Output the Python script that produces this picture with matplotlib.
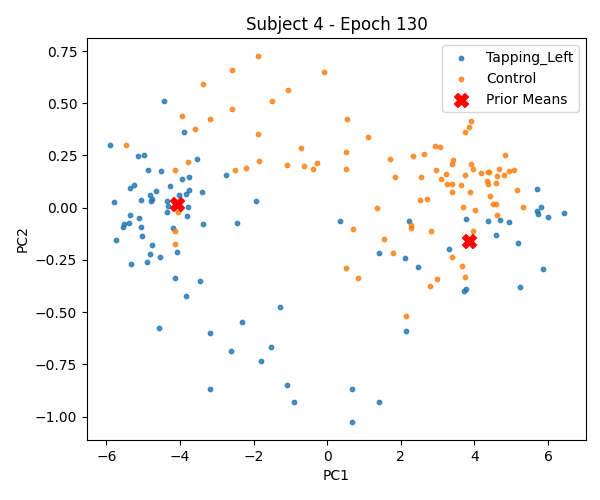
import matplotlib
matplotlib.use("Agg")
import matplotlib.pyplot as plt

tap_x = [-4.44, -3.90, -5.91, -5.15, -4.98, -3.54, -4.88, -4.52, -2.75, -3.95,
         -3.76, -5.37, -5.26, -4.28, -4.66, -3.76, -3.84, -3.41, -4.82, -4.77,
         -4.79, -5.07, -5.80, -4.36, -4.03, -4.33, -3.79, -4.36, -1.94, -5.37,
         -5.12, -3.81, -5.53, -5.39, -5.56, -5.07, -3.38, -2.45, -4.20, -5.75,
         -5.04, -4.77, -4.09, -4.82, -4.55, -5.34, -4.90, -4.14, -3.46, -3.84,
         -4.58, -2.32, -3.19, 0.35, 1.42, -1.28, -1.53, -2.62, -1.80, -3.19,
         -1.09, -0.90, 0.67, 0.67, 1.42, 2.23, 2.12, 2.47, 3.31, 5.71,
         5.82, 5.71, 5.74, 6.01, 6.42, 3.78, 4.38, 4.70, 4.95, 4.59,
         5.19, 5.87, 5.25, 3.72, 3.78, 2.14]
tap_y = [0.510, 0.362, 0.300, 0.248, 0.253, 0.234, 0.181, 0.176, 0.157, 0.138,
         0.148, 0.095, 0.110, 0.105, 0.081, 0.086, 0.067, 0.076, 0.062, 0.043,
         0.033, 0.038, 0.029, 0.033, 0.062, 0.010, 0.005, -0.019, 0.033, -0.033,
         -0.050, -0.038, -0.076, -0.072, -0.091, -0.091, -0.076, -0.072, -0.095, -0.157,
         -0.134, -0.181, -0.210, -0.224, -0.238, -0.272, -0.262, -0.339, -0.353, -0.424,
         -0.577, -0.548, -0.601, -0.062, -0.215, -0.477, -0.668, -0.687, -0.734, -0.868,
         -0.849, -0.930, -0.868, -1.025, -0.930, -0.062, -0.243, -0.286, -0.200, 0.091,
         0.005, -0.014, -0.029, -0.043, -0.024, -0.052, -0.062, -0.057, -0.067, -0.129,
         -0.167, -0.296, -0.381, -0.401, -0.391, -0.591]

ctl_x = [-3.38, -2.59, -3.95, -3.19, -3.60, -1.88, -5.47, -3.79, -1.86, -4.14,
         -2.51, -2.21, -4.06, -4.14, -4.14, -1.88, -2.59, -0.09, -1.07, -1.50,
         0.54, -0.71, 0.51, -1.09, -0.63, -0.28, -0.39, 0.51, 1.36, 0.70,
         0.51, 0.84, 1.11, 1.71, 2.33, 2.63, 2.93, 3.07, 3.42, 3.40,
         2.96, 3.23, 1.84, 2.55, 3.10, 3.26, 3.40, 3.64, 3.40, 2.53,
         2.72, 2.28, 2.28, 2.82, 1.55, 1.79, 3.40, 2.99, 2.80, 3.91,
         3.86, 3.75, 4.84, 3.91, 3.97, 4.18, 4.37, 4.39, 4.67, 4.95,
         5.08, 3.75, 4.62, 4.81, 4.35, 4.38, 4.59, 3.89, 5.16, 4.43,
         4.51, 4.59, 5.33, 3.70, 4.02, 4.62, 3.97, 3.67, 3.75, 2.14]
ctl_y = [0.591, 0.472, 0.439, 0.424, 0.377, 0.353, 0.300, 0.219, 0.224, 0.181,
         0.181, 0.191, -0.019, -0.114, -0.176, 0.725, 0.658, 0.649, 0.563, 0.510,
         0.424, 0.286, 0.267, 0.205, 0.200, 0.215, 0.186, 0.186, 0.000, -0.100,
         -0.291, -0.339, 0.339, 0.234, 0.248, 0.258, 0.296, 0.291, 0.229, 0.210,
         0.181, 0.162, 0.148, 0.148, 0.138, 0.114, 0.114, 0.110, 0.076, 0.038,
         0.043, -0.081, -0.095, -0.114, -0.148, -0.215, -0.234, -0.343, -0.377, 0.415,
         0.386, 0.362, 0.253, 0.210, 0.186, 0.167, 0.172, 0.172, 0.186, 0.176,
         0.181, 0.157, 0.153, 0.157, 0.129, 0.114, 0.119, 0.076, 0.086, 0.057,
         0.019, 0.019, 0.005, 0.005, -0.010, -0.033, -0.110, -0.277, -0.334, -0.520]

prior_x = [-4.07, 3.86]
prior_y = [0.018, -0.159]

fig = plt.figure(figsize=(6, 5), dpi=100)
ax = fig.add_axes([0.145, 0.12, 0.832, 0.804])
ax.scatter(tap_x, tap_y, s=10, alpha=0.8, color="C0", label="Tapping_Left")
ax.scatter(ctl_x, ctl_y, s=10, alpha=0.8, color="C1", label="Control")
ax.scatter(prior_x, prior_y, s=100, marker="X", color="red", label="Prior Means")
ax.set_title("Subject 4 - Epoch 130")
ax.set_xlabel("PC1")
ax.set_ylabel("PC2")
ax.legend(loc="upper right")
fig.savefig("out.png", dpi=100)
